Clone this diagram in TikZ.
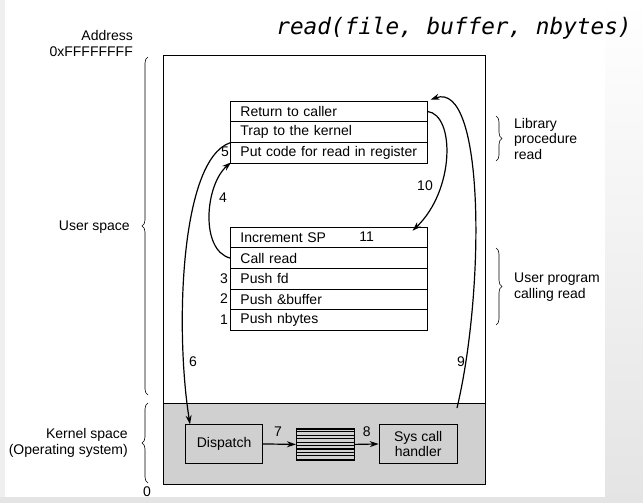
\documentclass[tikz,border=0pt]{standalone}
\usepackage{fontspec}
\setmainfont{Liberation Sans}
\newfontfamily\codefont{DejaVu Sans Mono}
\usetikzlibrary{arrows.meta,decorations.pathreplacing}
\definecolor{kgray}{HTML}{D0D0D0}
\definecolor{edgegray}{HTML}{E4E4E4}
\tikzset{
  txt/.style={font=\fontsize{14}{15.5}\selectfont, inner sep=0pt},
  rowbox/.style={draw, line width=0.9pt, anchor=north west, minimum height=20.6pt,
     text width=176.7pt, inner xsep=10pt, inner ysep=0pt, align=left,
     font=\fontsize{14}{15.5}\selectfont},
  kbox/.style={draw, line width=0.9pt, fill=kgray, anchor=north west, inner sep=0pt,
     align=center, font=\fontsize{14}{15.5}\selectfont},
  arr/.style={line width=1.2pt, -{Stealth[length=9pt,width=6pt]}},
  brc/.style={decorate, decoration={brace, amplitude=6pt}, line width=0.6pt},
}
\begin{document}
\begin{tikzpicture}[x=1pt,y=-1pt]
\useasboundingbox (0,0) rectangle (643,503);
% background edges
\shade[top color=white, bottom color=edgegray] (605,0) rectangle (643,503);
\fill[edgegray] (0,497) rectangle (643,503);
\fill[edgegray!60] (0,0) rectangle (5,497);
% title
\node[inner sep=0pt, font=\codefont\itshape\fontsize{22.7}{26}\selectfont] (title) at (454,28) {read(file, buffer, nbytes)};
% main memory box
\fill[kgray] (163,403) rectangle (485,484);
\draw[line width=1pt] (163,56) rectangle (485,484);
\draw[line width=1pt] (163,403) -- (485,403);
% library procedure rows
\node[rowbox] (ret)  at (230,100.7) {Return to caller};
\node[rowbox] (trap) at (230,121.3) {Trap to the kernel};
\node[rowbox] (put)  at (230,141.9) {Put code for read in register};
% user program rows
\node[rowbox] (inc)  at (230,226.7) {Increment SP};
\node[rowbox] (call) at (230,247.3) {Call read};
\node[rowbox] (pfd)  at (230,267.9) {Push fd};
\node[rowbox] (pbuf) at (230,288.5) {Push \&buffer};
\node[rowbox] (pnb)  at (230,309.1) {Push nbytes};
% kernel boxes
\node[kbox, minimum width=77.3pt, minimum height=38.4pt] (disp) at (185,424.3) {Dispatch};
\node[kbox, minimum width=78pt, minimum height=38.4pt] (sys) at (378.7,424.3) {Sys call\\[-1pt]handler};
\node[draw, line width=1.2pt, anchor=north west, minimum width=58pt, minimum height=31pt, inner sep=0pt] (stk) at (296,428.3) {};
\foreach \i in {1,...,8}{
  \draw[line width=1.1pt] ([yshift=-\i*31/9]stk.north west) -- ([yshift=-\i*31/9]stk.north east);
}
% arrows
\draw[arr] (disp.east) -- (stk.west);
\draw[arr] (stk.east) -- (sys.west);
\draw[arr] (trap.south west) .. controls (180,160) and (175,330) .. ([xshift=5]disp.north west);
\coordinate (s9) at (457,408);
\draw[arr] (s9) .. controls (485,290) and (485,80) .. ([xshift=3,yshift=1]ret.north east);
\draw[arr] (ret.east) .. controls (455,115) and (455,190) .. ([xshift=-15,yshift=-4]inc.north east);
\draw[arr] (call.west) .. controls (200,250) and (205,185) .. ([xshift=1,yshift=1]put.south west);
% step numbers
\node[txt] (n1) at (224,320) {1};
\node[txt] (n2) at (224,299) {2};
\node[txt] (n3) at (224,279) {3};
\node[txt] (n4) at (223,198) {4};
\node[txt] (n5) at (225,152) {5};
\node[txt] (n6) at (193,362) {6};
\node[txt] (n7) at (278,432) {7};
\node[txt] (n8) at (366.7,432) {8};
\node[txt] (n9) at (461,362) {9};
\node[txt] (n10) at (425,186) {10};
\node[txt] (n11) at (366.7,237) {11};
% left labels
\node[txt, anchor=east] (addr) at (133,35) {Address};
\node[txt, anchor=east] (ffff) at (133,51.5) {0xFFFFFFFF};
\node[txt, anchor=east] (us) at (130,227) {User space};
\node[txt, anchor=east, align=right] (ks) at (128,443) {Kernel space\\(Operating system)};
\node[txt] (zero) at (147,492) {0};
% braces
\draw[brc] (148,395) -- (148,57);
\draw[brc] (148,483) -- (148,403);
\draw[brc] (496,116) -- (496,161);
\draw[brc] (496,248) -- (496,325);
\node[txt, anchor=west, align=left] (lib) at (514,138.5) {Library\\procedure\\read};
\node[txt, anchor=west, align=left] (upc) at (514,287) {User program\\calling read};
\end{tikzpicture}
\end{document}
